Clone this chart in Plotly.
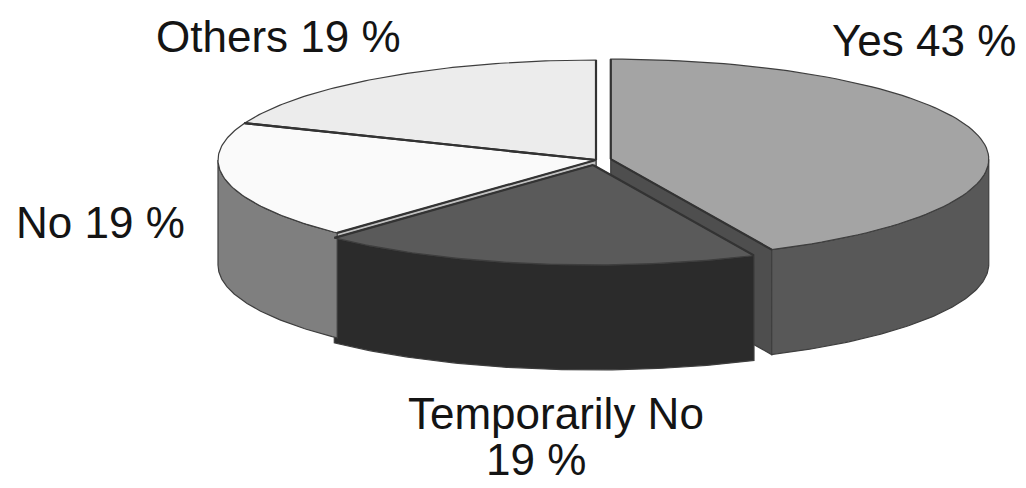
import numpy as np
import plotly.graph_objects as go

# Survey answers (percent), clockwise from 12 o'clock
labels = ["Yes", "Temporarily No", "No", "Others"]
values = [43, 19, 19, 19]

# Styling per slice
top_colors = ["#a4a4a4", "#5a5a5a", "#fafafa", "#ececec"]
side_colors = ["#585858", "#2b2b2b", "#7f7f7f", "#b5b5b5"]
face_colors = ["#4e4e4e", "#333333", "#959595", "#c0c0c0"]
pull = [0.04, 0.05, 0.0, 0.0]

# Projection of the tilted disc (pixel units)
W, H = 1026, 488
CX, CY = 596, 160
RX, RY = 378, 100
DEPTH = 105
START = 90.0
EDGE = "#3e3e3e"


def pt(t_deg, ox, oy, drop=0.0):
    t = np.radians(t_deg)
    return ox + RX * np.cos(t), oy - RY * np.sin(t) + drop


def arc(t0, t1, ox, oy, drop=0.0, n=90):
    ts = np.linspace(t0, t1, n)
    xs, ys = pt(ts, ox, oy, drop)
    return list(xs), list(ys)


def poly(xs, ys, fill, width=1.2, color=EDGE):
    return go.Scatter(
        x=xs + [xs[0]], y=ys + [ys[0]], mode="lines", fill="toself",
        fillcolor=fill, line=dict(color=color, width=width),
        hoverinfo="skip", showlegend=False,
    )


# slice angle spans (degrees, decreasing = clockwise)
total = float(sum(values))
spans = []
a = START
for v in values:
    b = a - 360.0 * v / total
    spans.append((a, b))
    a = b

origins = []
for (t_start, t_end), p in zip(spans, pull):
    mid = np.radians((t_start + t_end) / 2)
    origins.append((CX + p * RX * np.cos(mid), CY - p * RY * np.sin(mid)))

faces, walls, tops, edges = [], [], [], []
for i, ((t_start, t_end), (ox, oy)) in enumerate(zip(spans, origins)):
    # radial end faces that turn toward the viewer
    for t, normal in ((t_start, t_start + 90), (t_end, t_end - 90)):
        if np.sin(np.radians(normal)) < -1e-6:
            rx, ry = pt(t, ox, oy)
            faces.append(poly([ox, float(rx), float(rx), ox],
                              [oy, float(ry), float(ry) + DEPTH, oy + DEPTH],
                              face_colors[i]))
    # outer wall: only the front half of the rim
    for lo_b, hi_b in ((-180.0, 0.0), (-540.0, -360.0)):
        lo, hi = max(t_end, lo_b), min(t_start, hi_b)
        if hi > lo:
            xs1, ys1 = arc(hi, lo, ox, oy)
            xs2, ys2 = arc(lo, hi, ox, oy, DEPTH)
            walls.append(poly(xs1 + xs2, ys1 + ys2, side_colors[i]))
    # top surface
    xs, ys = arc(t_start, t_end, ox, oy)
    tops.append(poly([ox] + xs, [oy] + ys, top_colors[i]))
    # radial edges of the top surface
    for t in (t_start, t_end):
        rx, ry = pt(t, ox, oy)
        edges.append(go.Scatter(x=[ox, float(rx)], y=[oy, float(ry)], mode="lines",
                                line=dict(color="#333333", width=2.2),
                                hoverinfo="skip", showlegend=False))

fig = go.Figure(faces + walls + tops + edges)

FONT = dict(family="Liberation Sans, Arial, Helvetica, sans-serif", size=44, color="#141414")
text = [f"{lab} {val} %" for lab, val in zip(labels, values)]
label_pos = [(924, 40), None, (100, 222), (278, 36)]
for i, pos in enumerate(label_pos):
    if pos is None:
        continue
    fig.add_annotation(x=pos[0], y=pos[1], text=text[i], showarrow=False,
                       xanchor="center", yanchor="middle", font=FONT)
fig.add_annotation(x=556, y=413, text=labels[1], showarrow=False,
                   xanchor="center", yanchor="middle", font=FONT)
fig.add_annotation(x=536, y=459, text=f"{values[1]} %", showarrow=False,
                   xanchor="center", yanchor="middle", font=FONT)

fig.update_layout(
    width=W, height=H, margin=dict(l=0, r=0, t=0, b=0),
    paper_bgcolor="white", plot_bgcolor="white",
    xaxis=dict(range=[0, W], visible=False, fixedrange=True),
    yaxis=dict(range=[H, 0], visible=False, fixedrange=True),
)

fig.write_html("out.html", config={"displayModeBar": False})
